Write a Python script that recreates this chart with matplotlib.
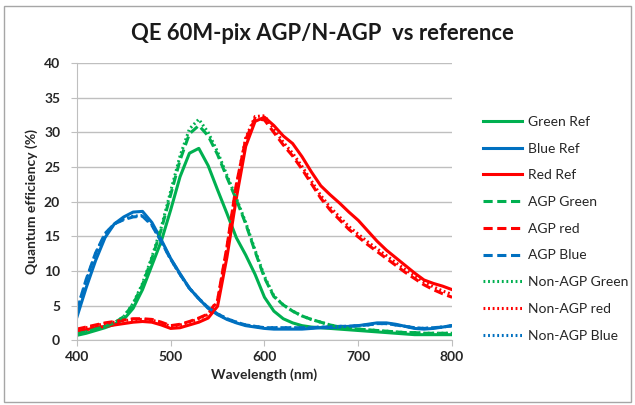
import matplotlib
matplotlib.use("Agg")
import matplotlib.pyplot as plt
from matplotlib.patches import Rectangle

plt.rcParams["font.family"] = ["Lato", "DejaVu Sans"]

# wavelength grid (nm)
wl = list(range(400, 801, 10))

green_ref = [0.7, 1.0, 1.4, 1.8, 2.3, 3.0, 4.6, 7.3, 10.8, 14.3,
             18.8, 23.6, 27.0, 27.7, 25.2, 21.7, 18.3, 14.8, 12.3, 9.5,
             6.2, 4.2, 3.1, 2.5, 2.1, 1.9, 1.8, 1.7, 1.6, 1.5,
             1.4, 1.3, 1.2, 1.1, 1.0, 0.9, 0.8, 0.8, 0.8, 0.8, 0.8]
blue_ref = [3.3, 7.6, 11.5, 14.8, 16.8, 17.8, 18.5, 18.6, 17.0, 14.5,
            11.8, 9.6, 7.5, 6.0, 4.6, 3.7, 3.0, 2.5, 2.1, 1.9,
            1.7, 1.6, 1.6, 1.6, 1.6, 1.7, 1.8, 1.8, 1.9, 2.0,
            2.1, 2.3, 2.5, 2.5, 2.3, 2.0, 1.7, 1.6, 1.7, 1.9, 2.1]
red_ref = [1.3, 1.5, 1.8, 2.0, 2.2, 2.4, 2.6, 2.7, 2.6, 2.2,
           1.7, 1.8, 2.2, 2.6, 3.2, 4.9, 12.0, 20.5, 28.0, 31.6,
           32.2, 31.0, 29.5, 28.4, 26.5, 24.3, 22.3, 21.0, 19.8, 18.5,
           17.3, 15.8, 14.3, 13.0, 11.9, 10.8, 9.7, 8.7, 8.2, 7.8, 7.3]

agp_green = [0.9, 1.2, 1.6, 2.0, 2.5, 3.4, 5.2, 8.0, 11.8, 16.0,
             21.0, 26.0, 29.8, 31.0, 29.5, 26.8, 23.5, 20.3, 16.8, 12.8,
             9.0, 6.3, 5.1, 4.2, 3.5, 3.0, 2.6, 2.2, 1.9, 1.7,
             1.6, 1.5, 1.4, 1.3, 1.2, 1.1, 1.1, 1.0, 1.0, 1.0, 1.0]
agp_red = [1.6, 1.9, 2.2, 2.5, 2.7, 2.9, 3.1, 3.1, 3.0, 2.6,
           2.1, 2.3, 2.7, 3.2, 3.8, 5.8, 13.5, 22.5, 29.0, 32.0,
           31.8, 30.0, 28.2, 26.6, 24.7, 22.6, 20.5, 18.8, 17.4, 16.0,
           14.9, 13.8, 12.8, 11.8, 10.8, 9.8, 8.9, 8.0, 7.3, 6.7, 6.2]
agp_blue = [4.3, 8.8, 12.6, 15.4, 16.8, 17.4, 17.8, 17.9, 16.6, 14.2,
            11.7, 9.5, 7.5, 6.0, 4.7, 3.8, 3.1, 2.6, 2.2, 2.0,
            1.8, 1.8, 1.8, 1.8, 1.8, 1.8, 1.9, 1.9, 2.0, 2.0,
            2.1, 2.2, 2.4, 2.4, 2.2, 2.0, 1.8, 1.7, 1.8, 1.9, 2.1]

nagp_green = [0.9, 1.2, 1.6, 2.0, 2.5, 3.4, 5.3, 8.2, 12.0, 16.3,
              21.5, 26.6, 30.5, 31.9, 30.0, 27.2, 23.8, 20.5, 17.0, 13.0,
              9.2, 6.4, 5.1, 4.2, 3.5, 3.0, 2.6, 2.2, 1.9, 1.7,
              1.6, 1.5, 1.4, 1.3, 1.2, 1.1, 1.1, 1.0, 1.0, 1.0, 1.0]
nagp_red = [1.5, 1.8, 2.1, 2.4, 2.6, 2.8, 3.0, 3.0, 2.9, 2.5,
            2.0, 2.2, 2.6, 3.1, 3.7, 5.6, 13.2, 22.3, 29.2, 32.3,
            32.4, 30.5, 28.6, 27.0, 25.1, 23.0, 20.9, 19.2, 17.8, 16.4,
            15.3, 14.2, 13.2, 12.2, 11.2, 10.2, 9.3, 8.4, 7.7, 7.1, 6.6]
nagp_blue = [4.2, 8.6, 12.5, 15.3, 16.8, 17.5, 17.9, 18.0, 16.7, 14.3,
             11.7, 9.5, 7.5, 6.0, 4.7, 3.8, 3.1, 2.6, 2.2, 2.0,
             1.8, 1.8, 1.8, 1.8, 1.8, 1.8, 1.9, 1.9, 2.0, 2.0,
             2.1, 2.2, 2.4, 2.4, 2.2, 2.0, 1.8, 1.7, 1.8, 1.9, 2.1]

GREEN = "#00B050"
BLUE = "#0070C0"
RED = "#FF0000"

fig = plt.figure(figsize=(6.35, 4.05), dpi=100)
ax = fig.add_axes([0.121, 0.160, 0.591, 0.684])

series = [
    (green_ref, GREEN, "-", "Green Ref"),
    (blue_ref, BLUE, "-", "Blue Ref"),
    (red_ref, RED, "-", "Red Ref"),
    (agp_green, GREEN, (0, (3, 1.5)), "AGP Green"),
    (agp_red, RED, (0, (3, 1.5)), "AGP red"),
    (agp_blue, BLUE, (0, (3, 1.5)), "AGP Blue"),
    (nagp_green, GREEN, (0, (0.6, 0.9)), "Non-AGP Green"),
    (nagp_red, RED, (0, (0.6, 0.9)), "Non-AGP red"),
    (nagp_blue, BLUE, (0, (0.6, 0.9)), "Non-AGP Blue"),
]
for vals, col, ls, lab in series:
    ax.plot(wl, vals, color=col, linestyle=ls, linewidth=2.2, label=lab)

ax.set_xlim(400, 800)
ax.set_ylim(0, 40)
ax.set_xticks(range(400, 801, 100))
ax.set_yticks(range(0, 41, 5))
ax.yaxis.grid(True, color="#BFBFBF", linewidth=1)
ax.set_axisbelow(True)
for s in ["top", "right"]:
    ax.spines[s].set_visible(False)
for s in ["left", "bottom"]:
    ax.spines[s].set_color("#BFBFBF")
ax.tick_params(axis="both", colors="#BFBFBF", length=4, labelcolor="#262626",
               labelsize=10)
for t in ax.get_xticklabels() + ax.get_yticklabels():
    t.set_fontweight("bold")
ax.tick_params(axis="y", pad=8)

ax.set_xlabel("Wavelength (nm)", fontsize=10, fontweight="bold", color="#262626")
ax.set_ylabel("Quantum efficiency (%)", fontsize=10, fontweight="bold", color="#262626")

fig.text(0.508, 0.918, "QE 60M-pix AGP/N-AGP  vs reference", ha="center", va="center",
         fontsize=15.8, fontweight="bold", color="#1a1a1a")

ax.legend(loc="upper left", bbox_to_anchor=(1.05, 0.855), frameon=False,
          fontsize=10, handlelength=2.8, handletextpad=0.4, labelspacing=1.06,
          labelcolor="#262626")

fig.add_artist(Rectangle((0.006, 0.008), 0.988, 0.978, transform=fig.transFigure,
                         fill=False, edgecolor="#A6A6A6", linewidth=1))

fig.savefig("out.png", dpi=100)
